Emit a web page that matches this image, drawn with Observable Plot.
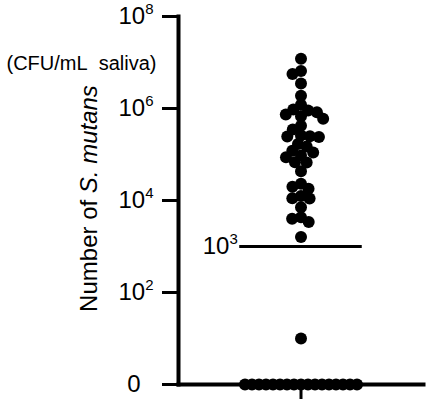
<!DOCTYPE html>
<html>
<head>
<meta charset="utf-8">
<script src="https://cdn.jsdelivr.net/npm/d3@7"></script>
<script src="https://cdn.jsdelivr.net/npm/@observablehq/plot@0.6"></script>
<style>
  html, body { margin: 0; padding: 0; background: #fff; }
  svg text { white-space: pre; }
</style>
</head>
<body>
<script>
// Detected S. mutans counts (CFU/mL saliva)
const detected = [
  1.2e7, 6.5e6, 5.6e6, 3.5e6, 1.9e6, 1.2e6,
  9.5e5, 9.1e5, 8.3e5, 7.4e5, 6.8e5, 6.0e5,
  4.2e5, 3.5e5, 2.6e5, 2.5e5, 2.45e5, 2.4e5,
  1.7e5, 1.5e5, 1.2e5, 1.1e5, 9.5e4, 8.7e4,
  6.8e4, 6.7e4, 4.3e4, 2.3e4, 2.0e4, 1.8e4,
  1.26e4, 1.12e4, 1.1e4, 7.1e3, 4.3e3, 4.0e3,
  3.4e3, 1.6e3, 1e1
];
// Samples with no detectable S. mutans (plotted on the "0" line)
const undetected = [0, 0, 0, 0, 0, 0, 0, 0, 0, 0, 0, 0, 0, 0, 0, 0, 0];
// Detection threshold
const threshold = [1e3];
// Y tick values and labels
const yTicks = [1, 1e2, 1e4, 1e6, 1e8];
const yTickLabels = ["0", "10^2", "10^4", "10^6", "10^8"];
const yTitle = "Number of S. mutans";
const unitsLabel = "(CFU/mL\u00a0 saliva)";
const thresholdLabel = "10^3";

const font = "'Liberation Sans', Arial, Helvetica, sans-serif";

const chart = Plot.plot({
  width: 431,
  height: 409,
  marginLeft: 178,
  marginRight: 8,
  marginTop: 16,
  marginBottom: 25,
  style: { fontFamily: font, fontSize: "24px", background: "white", color: "black" },
  x: { domain: [-1, 1], axis: null },
  y: { type: "log", domain: [1, 1e8], axis: null },
  marks: [
    Plot.frame({ anchor: "left", strokeWidth: 4, stroke: "black" }),
    Plot.frame({ anchor: "bottom", strokeWidth: 4, stroke: "black" }),
    Plot.axisY({
      ticks: yTicks,
      tickFormat: (d) => yTickLabels[yTicks.indexOf(d)],
      tickSize: 16,
      tickPadding: 9,
      strokeWidth: 3,
      fontSize: 24,
      label: null
    }),
    Plot.axisX({
      ticks: [0],
      tickSize: 15,
      strokeWidth: 3,
      tickFormat: () => "",
      label: null
    }),
    Plot.ruleY(threshold, { x1: -0.5, x2: 0.5, strokeWidth: 3, stroke: "black" }),
    Plot.text(threshold, {
      y: (d) => d, x: -0.5, dx: -2, text: () => thresholdLabel,
      textAnchor: "end", fontSize: 24, fill: "black"
    }),
    Plot.dot(undetected, Plot.dodgeX({ anchor: "middle", padding: -5 }, {
      y: (d) => (d === 0 ? 1 : d), r: 6, fill: "black", stroke: "none"
    })),
    Plot.dot(detected, Plot.dodgeX({ anchor: "middle", padding: -3 }, {
      y: (d) => d, r: 6, fill: "black", stroke: "none"
    })),
    Plot.text([yTitle], {
      frameAnchor: "left", dx: -89, dy: -2, rotate: -90, text: (d) => d,
      textAnchor: "middle", fontSize: 24, fill: "black"
    }),
    Plot.text([unitsLabel], {
      frameAnchor: "top-left", dx: -172, dy: 39, text: (d) => d,
      textAnchor: "start", fontSize: 20, fill: "black"
    })
  ]
});

document.body.appendChild(chart);

// Typeset exponents as superscripts and italicise the species name
d3.select(chart).selectAll("text").each(function () {
  const el = this;
  const s = el.textContent;
  const m = /^10\^(\d+)$/.exec(s);
  if (m) {
    el.textContent = "";
    const t = d3.select(el);
    t.append("tspan").text("10");
    t.append("tspan").attr("font-size", 15).attr("dy", -10).text(m[1]);
  } else if (s === "0") {
    el.setAttribute("dx", -13);
  } else if (s === yTitle) {
    el.textContent = "";
    const t = d3.select(el);
    t.append("tspan").text("Number of ");
    t.append("tspan").attr("font-style", "italic").text("S. mutans");
  }
});
</script>
</body>
</html>
